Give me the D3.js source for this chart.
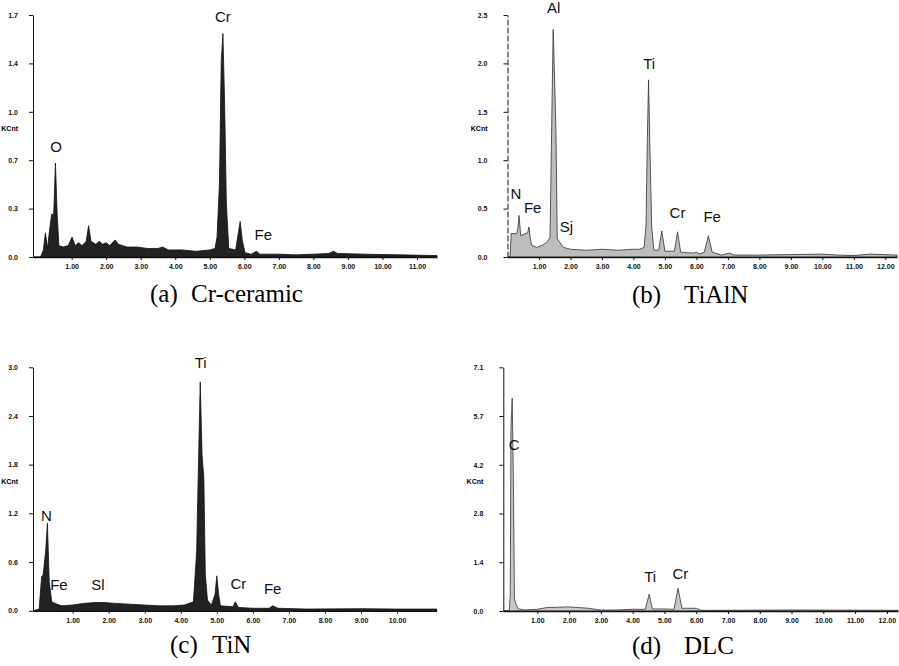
<!DOCTYPE html>
<html>
<head>
<meta charset="utf-8">
<script src="https://cdn.jsdelivr.net/npm/d3@7"></script>
<style>
body { margin: 0; background: #fff; }
.axis text { font-family: "Liberation Sans", Arial, sans-serif; font-size: 7px; font-weight: bold; fill: #111; }
.axis path, .axis line { stroke: #111; }
.peak { font-family: "Liberation Sans", Arial, sans-serif; font-size: 15px; fill: #111; }
.caption { font-family: "Liberation Serif", "Times New Roman", serif; font-size: 25px; fill: #000; }
</style>
</head>
<body>
<div id="chart"></div>
<script>
//spectra: [keV, counts]
var crSpectrum = [[-0.1,0],[0.1,0],[0.18,0.05],[0.24,0.17],[0.3,0.06],[0.36,0.19],[0.42,0.3],[0.48,0.3],
    [0.53,0.66],[0.58,0.3],[0.63,0.08],[0.75,0.07],[0.9,0.08],[1.01,0.14],[1.1,0.08],[1.2,0.1],[1.3,0.08],
    [1.42,0.11],[1.49,0.22],[1.56,0.11],[1.7,0.09],[1.8,0.11],[1.9,0.09],[2.0,0.1],[2.1,0.08],[2.26,0.12],
    [2.35,0.09],[2.6,0.07],[2.9,0.07],[3.2,0.06],[3.5,0.06],[3.63,0.07],[3.8,0.05],[4.2,0.05],[4.6,0.04],
    [5.0,0.05],[5.15,0.06],[5.21,0.14],[5.28,0.52],[5.33,1.36],[5.38,1.57],[5.43,1.07],[5.48,0.37],[5.55,0.06],
    [5.75,0.05],[5.82,0.16],[5.88,0.25],[5.94,0.12],[6.02,0.03],[6.2,0.02],[6.35,0.04],[6.45,0.02],[7.0,0.02],
    [7.5,0.015],[8.0,0.02],[8.45,0.025],[8.58,0.04],[8.7,0.025],[9.5,0.02],[10.5,0.015],[11.58,0.01]];
var tialnSpectrum = [[0,0],[0.08,0],[0.12,0.245],[0.29,0.24],[0.33,0.3],[0.365,0.43],[0.42,0.22],[0.56,0.24],
    [0.64,0.25],[0.68,0.31],[0.72,0.2],[0.77,0.12],[0.93,0.1],[1.1,0.12],[1.24,0.15],[1.35,0.2],[1.4,1.28],
    [1.45,2.35],[1.5,1.79],[1.54,1.28],[1.58,0.19],[1.77,0.1],[2.0,0.08],[2.5,0.07],[3.0,0.08],[3.5,0.07],
    [4.0,0.08],[4.2,0.08],[4.34,0.1],[4.4,0.34],[4.44,1.21],[4.48,1.83],[4.52,1.18],[4.58,0.31],[4.65,0.07],
    [4.8,0.07],[4.9,0.27],[5.0,0.06],[5.3,0.06],[5.4,0.26],[5.5,0.05],[5.9,0.04],[6.0,0.05],[6.1,0.03],
    [6.25,0.05],[6.38,0.22],[6.5,0.05],[6.8,0.02],[7.05,0.04],[7.2,0.02],[8.0,0.02],[9.0,0.025],[10.0,0.03],
    [10.5,0.02],[11.0,0.015],[11.5,0.03],[12.37,0.02]];
var tinSpectrum = [[-0.1,0],[0.07,0.02],[0.14,0.42],[0.18,0.44],[0.25,0.73],[0.3,1.08],[0.35,0.36],[0.42,0.11],
    [0.51,0.09],[0.7,0.06],[1.0,0.07],[1.3,0.09],[1.6,0.1],[1.9,0.1],[2.2,0.09],[2.6,0.08],[3.0,0.07],
    [3.4,0.06],[3.8,0.06],[4.1,0.07],[4.35,0.11],[4.44,0.73],[4.5,2.0],[4.54,2.82],[4.59,1.92],[4.64,1.63],
    [4.68,0.45],[4.74,0.13],[4.85,0.07],[4.95,0.2],[5.0,0.43],[5.05,0.2],[5.1,0.06],[5.45,0.05],[5.51,0.11],
    [5.6,0.04],[6.0,0.03],[6.45,0.03],[6.55,0.06],[6.7,0.03],[7.5,0.02],[9.0,0.025],[10.0,0.02],[11.1,0.02]];
var dlcSpectrum = [[-0.07,0],[0.12,0.02],[0.15,0.5],[0.17,5.28],[0.21,6.2],[0.25,3.58],[0.28,0.37],[0.32,0.22],
    [0.4,0.06],[0.6,0.03],[1.0,0.05],[1.3,0.1],[2.0,0.12],[2.6,0.08],[3.0,0.03],[3.5,0.03],[4.0,0.05],
    [4.4,0.05],[4.52,0.49],[4.62,0.06],[4.95,0.06],[5.3,0.05],[5.43,0.66],[5.55,0.08],[6.0,0.08],[6.15,0.02],
    [7.0,0.02],[9.0,0.03],[12.35,0.02]];

//axis ticks and labels
var crYTicks = [0, 0.34, 0.68, 1.02, 1.36, 1.7], crYLabels = ["0.0", "0.3", "0.7", "1.0", "1.4", "1.7"];
var tialnYTicks = [0, 0.5, 1, 1.5, 2, 2.5], tialnYLabels = ["0.0", "0.5", "1.0", "1.5", "2.0", "2.5"];
var tinYTicks = [0, 0.6, 1.2, 1.8, 2.4, 3.0], tinYLabels = ["0.0", "0.6", "1.2", "1.8", "2.4", "3.0"];
var dlcYTicks = [0, 1.42, 2.84, 4.26, 5.68, 7.1], dlcYLabels = ["0.0", "1.4", "2.8", "4.2", "5.7", "7.1"];
var crXTicks = [1, 2, 3, 4, 5, 6, 7, 8, 9, 10, 11];
var tialnXTicks = [1, 2, 3, 4, 5, 6, 7, 8, 9, 10, 11, 12];
var tinXTicks = [1, 2, 3, 4, 5, 6, 7, 8, 9, 10];
var dlcXTicks = [1, 2, 3, 4, 5, 6, 7, 8, 9, 10, 11, 12];

//element labels: [text, keV, counts]
var crPeaks = [["Cr", 5.38, 1.65], ["O", 0.55, 0.74], ["Fe", 6.55, 0.12]];
var tialnPeaks = [["Al", 1.47, 2.52], ["Ti", 4.5, 1.94], ["N", 0.27, 0.6], ["Fe", 0.8, 0.45], ["Sj", 1.87, 0.26],
    ["Cr", 5.4, 0.4], ["Fe", 6.5, 0.36]];
var tinPeaks = [["Ti", 4.55, 2.99], ["N", 0.27, 1.1], ["Fe", 0.62, 0.26], ["Sl", 1.7, 0.26], ["Cr", 5.6, 0.27], ["Fe", 6.55, 0.21]];
var dlcPeaks = [["C", 0.27, 4.7], ["Ti", 4.55, 0.85], ["Cr", 5.5, 0.93]];

var captionTags = ["(a)", "(b)", "(c)", "(d)"];
var captionNames = ["Cr-ceramic", "TiAlN", "TiN", "DLC"];

var svg = d3.select("#chart").append("svg").attr("width", 899).attr("height", 666);

//caption word
function caption(txt, x0, yb){
    svg.append("text")
        .attr("class", "caption")
        .attr("x", x0)
        .attr("y", yb)
        .text(txt);
}

//draws one spectrum panel
function drawPanel(opt){
    var x = d3.scaleLinear().domain(opt.xDomain).range(opt.xRange),
        y = d3.scaleLinear().domain(opt.yDomain).range(opt.yRange);
    var g = svg.append("g");

    //filled spectrum
    var area = d3.area().x(function(d){ return x(d[0]); }).y0(y(0)).y1(function(d){ return y(d[1]); });
    g.append("path")
        .datum(opt.data)
        .attr("d", area)
        .attr("fill", opt.fill)
        .attr("stroke", opt.stroke)
        .attr("stroke-width", 0.8)
        .attr("stroke-linejoin", "round");

    //x axis
    var xA = d3.axisBottom(x).tickValues(opt.xTicks).tickSize(3).tickSizeOuter(0).tickPadding(4)
        .tickFormat(d3.format(".2f"));
    g.append("g")
        .attr("class", "axis")
        .attr("transform", "translate(0," + y(0) + ")")
        .call(xA)
        .select(".domain").attr("stroke-width", 1.6);

    //y axis
    var yA = d3.axisLeft(y).tickValues(opt.yTicks).tickSize(4).tickSizeOuter(0).tickPadding(opt.yPad)
        .tickFormat(function(d, i){ return opt.yLabels[i]; });
    var ya = g.append("g")
        .attr("class", "axis")
        .attr("transform", "translate(" + x(opt.xDomain[0]) + ",0)")
        .call(yA);
    if (opt.dashed) ya.select(".domain").attr("stroke-dasharray", "6,2");

    //unit label
    g.append("text")
        .attr("x", x(opt.xDomain[0]) - opt.yPad - 4)
        .attr("y", y((opt.yDomain[1]) * 0.52))
        .attr("text-anchor", "end")
        .style("font-family", "Liberation Sans, Arial, sans-serif")
        .style("font-size", "7px")
        .style("font-weight", "bold")
        .text("KCnt");

    //element labels
    g.selectAll("text.peak")
        .data(opt.peaks)
        .enter().append("text")
        .attr("class", "peak")
        .attr("x", function(d){ return x(d[1]); })
        .attr("y", function(d){ return y(d[2]); })
        .attr("text-anchor", "middle")
        .text(function(d){ return d[0]; });

    //caption: tag and name
    caption(captionTags[opt.idx], opt.cap[0], opt.cap[2]);
    caption(captionNames[opt.idx], opt.cap[1], opt.cap[2]);
}

drawPanel({idx: 0, data: crSpectrum, xDomain: [-0.12, 11.58], xRange: [33, 437], yDomain: [0, 1.7], yRange: [257, 15],
    xTicks: crXTicks, yTicks: crYTicks, yLabels: crYLabels, yPad: 11, peaks: crPeaks,
    fill: "#222", stroke: "#111", cap: [150, 191, 302]});
drawPanel({idx: 1, data: tialnSpectrum, xDomain: [0, 12.37], xRange: [507.5, 897], yDomain: [0, 2.5], yRange: [257, 15],
    xTicks: tialnXTicks, yTicks: tialnYTicks, yLabels: tialnYLabels, yPad: 16, peaks: tialnPeaks, dashed: true,
    fill: "#bdbdbd", stroke: "#333", cap: [632, 684, 303]});
drawPanel({idx: 2, data: tinSpectrum, xDomain: [-0.1, 11.1], xRange: [33, 436.7], yDomain: [0, 3], yRange: [610.7, 367.3],
    xTicks: tinXTicks, yTicks: tinYTicks, yLabels: tinYLabels, yPad: 11, peaks: tinPeaks,
    fill: "#222", stroke: "#111", cap: [170, 212, 653]});
drawPanel({idx: 3, data: dlcSpectrum, xDomain: [-0.07, 12.35], xRange: [503.3, 898], yDomain: [0, 7.1], yRange: [611, 367.3],
    xTicks: dlcXTicks, yTicks: dlcYTicks, yLabels: dlcYLabels, yPad: 16, peaks: dlcPeaks,
    fill: "#c8c8c8", stroke: "#333", cap: [632, 684, 654]});
</script>
</body>
</html>
